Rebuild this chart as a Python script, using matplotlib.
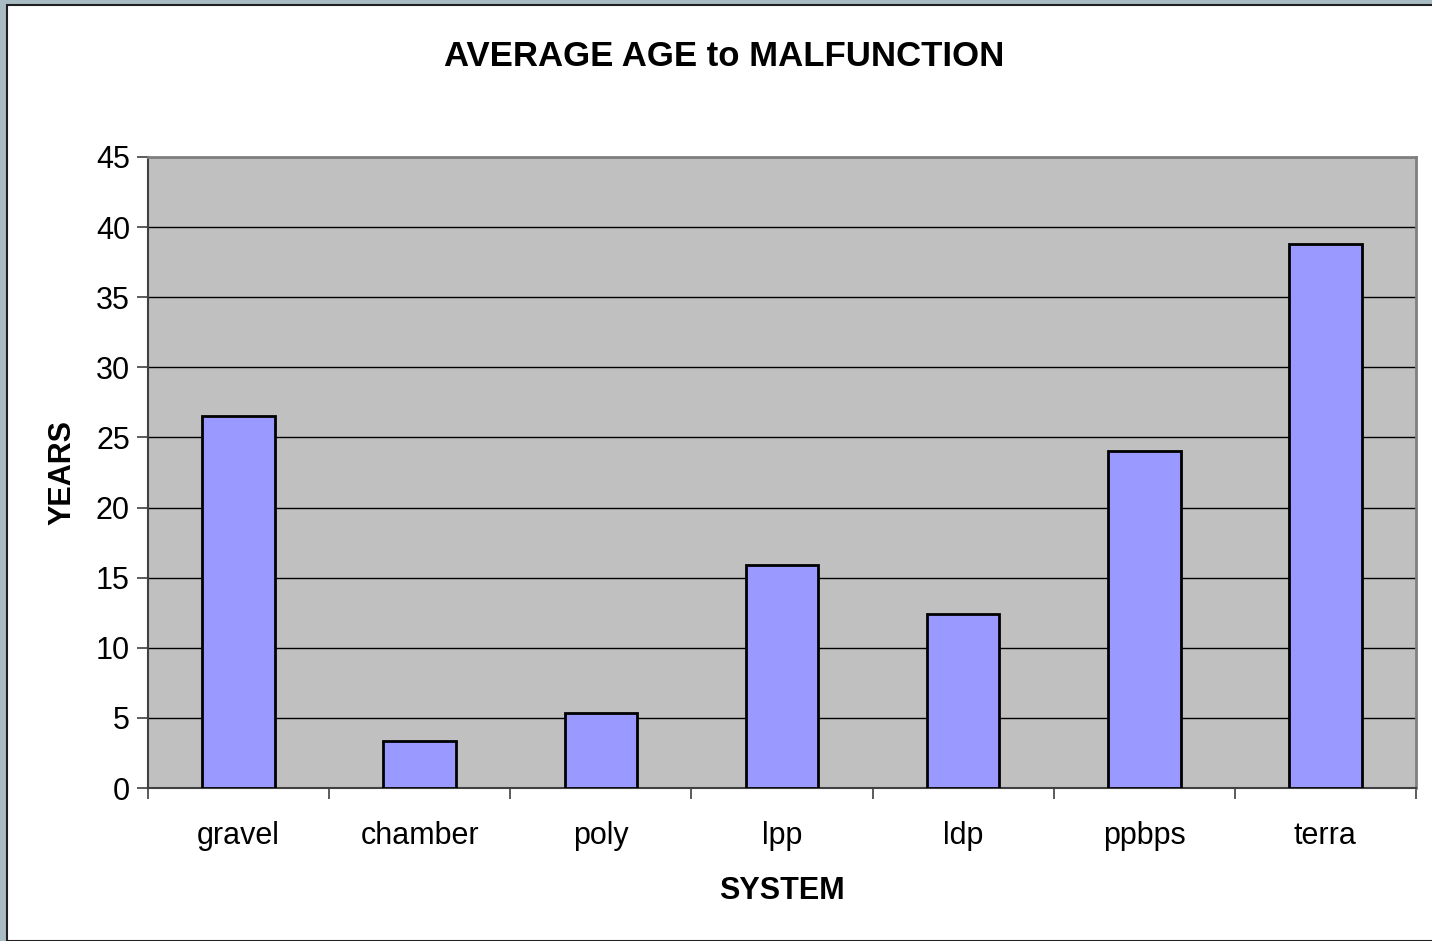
import matplotlib
matplotlib.use('Agg')
import matplotlib.pyplot as plt
from matplotlib.patches import Rectangle
import numpy as np

plt.rcParams['font.family'] = ['Liberation Sans', 'DejaVu Sans']

# data
systems = ['gravel', 'chamber', 'poly', 'lpp', 'ldp', 'ppbps', 'terra']
avg_age = [26.5, 3.35, 5.35, 15.9, 12.4, 24.0, 38.8]
y_ticks = [0, 5, 10, 15, 20, 25, 30, 35, 40, 45]

W, H = 1432, 941
fig = plt.figure(figsize=(W / 100, H / 100), dpi=100, facecolor='#a9bcc4')

# white chart area with thin dark frame (screenshot of a slide)
fig.patches.append(Rectangle((7 / W, 0), 1 - 7 / W + 0.01, 1 - 5 / H,
                             transform=fig.transFigure, facecolor='white',
                             edgecolor='#202020', linewidth=1.5, zorder=-5))

ax = fig.add_axes([148 / W, 1 - 788 / H, (1416 - 148) / W, (788 - 157) / H])
ax.set_facecolor('#c0c0c0')

x = np.arange(len(systems))
ax.bar(x, avg_age, width=0.40, color='#9999ff', edgecolor='black',
       linewidth=2, zorder=3)

ax.set_xlim(-0.5, len(systems) - 0.5)
ax.set_ylim(0, 45)
ax.set_yticks(y_ticks)
ax.yaxis.grid(True, color='black', linewidth=1)
ax.set_axisbelow(True)

# category ticks sit between the bars
ax.set_xticks(np.arange(len(systems) + 1) - 0.5)
ax.set_xticklabels([])
ax.set_xticks(x, minor=True)
ax.set_xticklabels(systems, minor=True)
ax.tick_params(axis='x', which='minor', length=0, labelsize=22, pad=24)
ax.tick_params(axis='x', which='major', length=8, color='#404040', width=1.2)
ax.tick_params(axis='y', length=8, color='#404040', width=1.2, labelsize=22, pad=5)

for side in ['left', 'bottom']:
    ax.spines[side].set_color('#404040')
    ax.spines[side].set_linewidth(1.5)
for side in ['top', 'right']:
    ax.spines[side].set_color('#808080')
    ax.spines[side].set_linewidth(2)

ax.set_xlabel('SYSTEM', fontsize=22, fontweight='bold', labelpad=18)
ax.set_ylabel('YEARS', fontsize=22, fontweight='bold', labelpad=13)
fig.text(724 / W, 1 - 57 / H, 'AVERAGE AGE to MALFUNCTION', ha='center',
         va='center', fontsize=25, fontweight='bold')

fig.savefig('out.png', dpi=100, facecolor=fig.get_facecolor())
plt.close(fig)
